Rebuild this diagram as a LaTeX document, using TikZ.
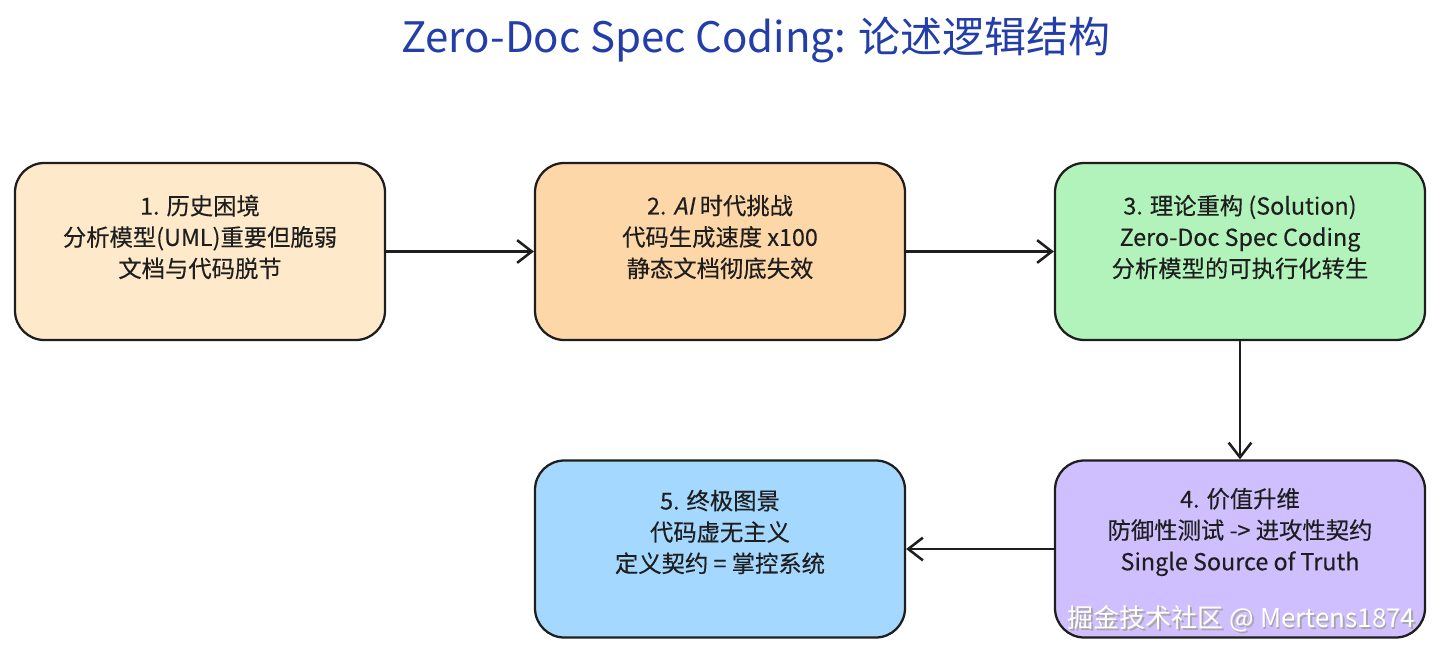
\documentclass[tikz,border=0pt]{standalone}
\usepackage{fontspec}
\setmainfont{Noto Sans CJK SC}
\newfontfamily\boxfont{Noto Sans CJK SC}[FakeBold=0.3]
\newfontfamily\slantfont{Noto Sans CJK SC}[FakeSlant=0.2,FakeBold=0.3]
\usetikzlibrary{arrows.meta}
\definecolor{ink}{RGB}{30,30,30}
\definecolor{titleblue}{RGB}{35,62,168}
\definecolor{fillA}{RGB}{254,234,202}
\definecolor{fillB}{RGB}{254,215,168}
\definecolor{fillC}{RGB}{178,242,187}
\definecolor{fillD}{RGB}{208,191,255}
\definecolor{fillE}{RGB}{165,216,255}
\tikzset{
  stepbox/.style={draw=ink, line width=1.7pt, rounded corners=22pt,
    minimum width=277.5pt, minimum height=132.75pt, inner sep=0pt},
  boxtext/.style={text=ink, align=center, font=\boxfont\fontsize{17.5}{23.5}\selectfont},
  flow/.style={draw=ink, line width=1.9pt, -{Straight Barb[length=11pt,width=17pt,line width=1.9pt]}},
}
\begin{document}
\begin{tikzpicture}[x=0.75pt,y=-0.75pt]
\useasboundingbox (0,0) rectangle (1440,653);
\fill[white] (0,0) rectangle (1440,653);
\node[text=titleblue, font=\fontsize{31.5}{34}\selectfont] (title) at (756,40) {Zero-Doc Spec Coding: 论述逻辑结构};
\node[stepbox, fill=fillA] (b1) at (200,251.5) {};
\node[stepbox, fill=fillB] (b2) at (720,251.5) {};
\node[stepbox, fill=fillC] (b3) at (1240,251.5) {};
\node[stepbox, fill=fillD] (b4) at (1240,549) {};
\node[stepbox, fill=fillE] (b5) at (720,549) {};
\node[boxtext] (t1) at (200,237) {1. 历史困境\\分析模型(UML)重要但脆弱\\文档与代码脱节};
\node[boxtext] (t2) at (720,237) {2. {\slantfont AI} 时代挑战\\代码生成速度 x100\\静态文档彻底失效};
\node[boxtext] (t3) at (1240,237) {3. 理论重构 (Solution)\\Zero-Doc Spec Coding\\分析模型的可执行化转生};
\node[boxtext] (t4) at (1240,532) {4. 价值升维\\防御性测试 -> 进攻性契约\\Single Source of Truth};
\node[boxtext] (t5) at (720,532) {5. 终极图景\\代码虚无主义\\定义契约 = 掌控系统};
\draw[flow] (b1.east) -- (b2.west);
\draw[flow] (b2.east) -- (b3.west);
\draw[flow] (b3.south) -- (b4.north);
\draw[flow] (b4.west) -- (b5.east);
\node[text=gray!70, font=\fontsize{19.5}{22}\selectfont, anchor=east] (wms) at (1421.5,620.5) {掘金技术社区 @ Mertens1874};
\node[text=white, font=\fontsize{19.5}{22}\selectfont, anchor=east] (wm) at (1420,619) {掘金技术社区 @ Mertens1874};
\end{tikzpicture}
\end{document}
